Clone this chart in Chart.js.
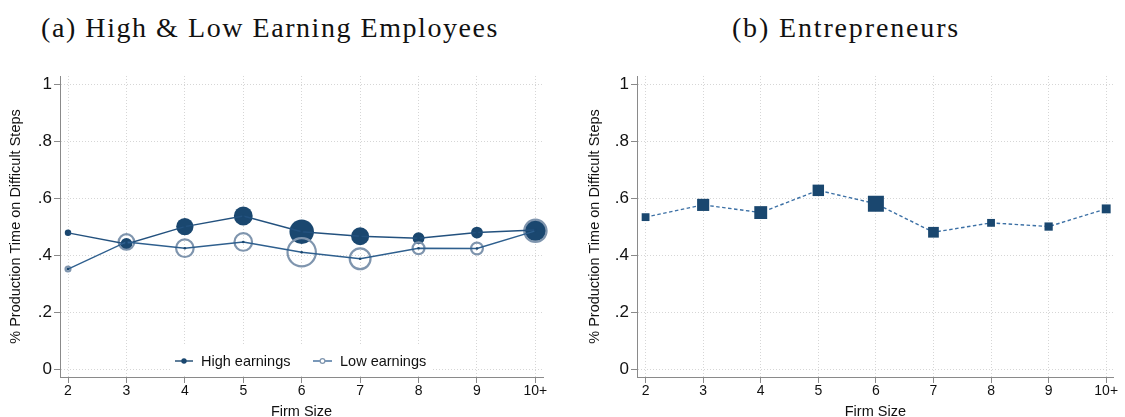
<!DOCTYPE html>
<html>
<head>
<meta charset="utf-8">
<script src="https://cdn.jsdelivr.net/npm/chart.js@4.4.1/dist/chart.umd.min.js"></script>
<style>
  html, body { margin: 0; padding: 0; background: #fff; }
  body { width: 1125px; height: 417px; position: relative; overflow: hidden; }
  .panel { position: absolute; top: 0; height: 417px; }
  #panelA { left: 0; width: 565px; }
  #panelB { left: 565px; width: 560px; }
  .ttl {
    position: absolute; top: 13px;
    font-family: "Liberation Serif", "Times New Roman", serif;
    font-size: 28px; line-height: 30px; color: #111;
    white-space: nowrap; transform: translateX(-50%);
  }
</style>
</head>
<body>
<div class="ttl" id="titleA" style="left:270px;letter-spacing:1.55px">(a) High &amp; Low Earning Employees</div>
<div class="ttl" id="titleB" style="left:846px;letter-spacing:1.85px">(b) Entrepreneurs</div>
<div class="panel" id="panelA"><canvas id="chartA" width="565" height="417"></canvas></div>
<div class="panel" id="panelB"><canvas id="chartB" width="560" height="417"></canvas></div>
<script>
// Firm-size categories on the x axis
const firmSizes = ['2', '3', '4', '5', '6', '7', '8', '9', '10+'];
const yTickValues = [0, 0.2, 0.4, 0.6, 0.8, 1];
const yTickLabels = ['0', '.2', '.4', '.6', '.8', '1'];

// Share of production time on difficult steps, by earnings group
const highEarnings = [0.479, 0.440, 0.501, 0.538, 0.483, 0.467, 0.460, 0.480, 0.489];
const lowEarnings  = [0.352, 0.447, 0.425, 0.447, 0.411, 0.388, 0.425, 0.424, 0.486];
// Relative number of observations behind each point (marker area)
const highEarningsObs = [10.5, 35, 75, 89, 150, 81, 35, 35, 117];
const lowEarningsObs  = [6, 61, 77, 77, 201, 108, 35, 35, 125];

// Entrepreneurs
const entrepreneurs    = [0.534, 0.577, 0.550, 0.628, 0.581, 0.481, 0.514, 0.501, 0.563];
const entrepreneursObs = [61, 147, 166, 131, 256, 115, 61, 68, 79];

const NAVY = '#1a476f';
const RING = '#7f95ae';
const SANS = '"Liberation Sans", Arial, Helvetica, sans-serif';

const points = arr => arr.map((v, i) => ({ x: i, y: v }));

function xScale(min, max) {
  return {
    type: 'linear', min: min, max: max,
    afterBuildTicks: s => { s.ticks = firmSizes.map((_, i) => ({ value: i })); },
    afterFit: s => { s.height = 40; },
    ticks: {
      padding: 0, color: '#111', autoSkip: false, maxRotation: 0,
      font: { family: SANS, size: 14 },
      callback: v => firmSizes[v]
    },
    grid: { color: '#d6d6d6', lineWidth: 1, drawTicks: true, tickLength: 6,
            tickColor: '#8a8a8a', tickWidth: 1, tickBorderDash: [] },
    border: { display: true, color: '#8a8a8a', width: 1, dash: [1, 2] },
    title: { display: true, text: 'Firm Size', color: '#111',
             font: { family: SANS, size: 14.5 }, padding: { top: 0, bottom: -3.4 } }
  };
}

function yScale(width, titlePad) {
  return {
    type: 'linear', min: -0.0266, max: 1.029,
    afterBuildTicks: s => { s.ticks = yTickValues.map(v => ({ value: v })); },
    afterFit: s => { s.width = width; },
    ticks: {
      padding: 2, color: '#111',
      font: { family: SANS, size: 17 },
      callback: v => yTickLabels[yTickValues.indexOf(v)]
    },
    grid: { color: '#d6d6d6', lineWidth: 1, drawTicks: true, tickLength: 6,
            tickColor: '#8a8a8a', tickWidth: 1, tickBorderDash: [] },
    border: { display: true, color: '#8a8a8a', width: 1, dash: [1, 2] },
    title: { display: true, text: '% Production Time on Difficult Steps', color: '#111',
             font: { family: SANS, size: 14.5 }, padding: { top: titlePad, bottom: 0 } }
  };
}

// Legend drawn inside the plot area of panel (a)
const innerLegend = {
  id: 'innerLegend',
  beforeDatasetsDraw(chart) {
    const ctx = chart.ctx;
    const y = 361;
    ctx.save();
    ctx.fillStyle = '#fff';
    ctx.fillRect(170, 346, 262, 30);
    ctx.lineWidth = 1.4;
    // High earnings key
    ctx.strokeStyle = NAVY;
    ctx.beginPath(); ctx.moveTo(175, y); ctx.lineTo(193, y); ctx.stroke();
    ctx.fillStyle = NAVY;
    ctx.beginPath(); ctx.arc(184, y, 2.7, 0, Math.PI * 2); ctx.fill();
    // Low earnings key
    ctx.strokeStyle = '#3f6c9b';
    ctx.beginPath(); ctx.moveTo(313, y); ctx.lineTo(332, y); ctx.stroke();
    ctx.fillStyle = '#fff';
    ctx.strokeStyle = RING; ctx.lineWidth = 1.2;
    ctx.beginPath(); ctx.arc(322.5, y, 2.4, 0, Math.PI * 2); ctx.fill(); ctx.stroke();
    ctx.fillStyle = '#111';
    ctx.font = '14.5px ' + SANS;
    ctx.textBaseline = 'middle';
    ctx.fillText('High earnings', 201, y + 0.5);
    ctx.fillText('Low earnings', 340, y + 0.5);
    ctx.restore();
  }
};

new Chart(document.getElementById('chartA'), {
  type: 'scatter',
  data: {
    datasets: [
      { label: 'High earnings', data: points(highEarnings), order: 4, clip: false,
        showLine: false, backgroundColor: NAVY, pointBorderWidth: 0,
        pointRadius: highEarningsObs.map(Math.sqrt) },
      { label: 'Low earnings', data: points(lowEarnings), order: 3, clip: false,
        showLine: false, backgroundColor: 'rgba(0,0,0,0)', pointBorderColor: RING,
        pointBorderWidth: 2.2, pointRadius: lowEarningsObs.map(Math.sqrt) },
      { label: 'High earnings line', data: points(highEarnings), order: 2,
        showLine: true, borderColor: '#23517e', borderWidth: 1.4,
        pointRadius: 1.3, pointBackgroundColor: NAVY, pointBorderWidth: 0 },
      { label: 'Low earnings line', data: points(lowEarnings), order: 1,
        showLine: true, borderColor: '#2e5f8e', borderWidth: 1.4,
        pointRadius: 1.3, pointBackgroundColor: NAVY, pointBorderWidth: 0 }
    ]
  },
  options: {
    responsive: false, animation: false, events: [],
    layout: { padding: { left: 0, right: 22, top: 76, bottom: 0 } },
    scales: { x: xScale(-0.137, 8.130), y: yScale(60, 7.6) },
    plugins: { legend: { display: false }, tooltip: { enabled: false } }
  },
  plugins: [innerLegend]
});

new Chart(document.getElementById('chartB'), {
  type: 'scatter',
  data: {
    datasets: [
      { label: 'Entrepreneurs', data: points(entrepreneurs), order: 1, clip: false,
        showLine: false, pointStyle: 'rect', backgroundColor: NAVY, pointBorderWidth: 0,
        pointRadius: entrepreneursObs.map(w => Math.sqrt(w) / Math.SQRT2) },
      { label: 'Entrepreneurs line', data: points(entrepreneurs), order: 2,
        showLine: true, borderColor: '#3c70a5', borderWidth: 1.4, borderDash: [3.5, 2.5],
        pointRadius: 0 }
    ]
  },
  options: {
    responsive: false, animation: false, events: [],
    layout: { padding: { left: 0, right: 4, top: 76, bottom: 0 } },
    scales: { x: xScale(-0.149, 8.130), y: yScale(72, 21.6) },
    plugins: { legend: { display: false }, tooltip: { enabled: false } }
  }
});
</script>
</body>
</html>
